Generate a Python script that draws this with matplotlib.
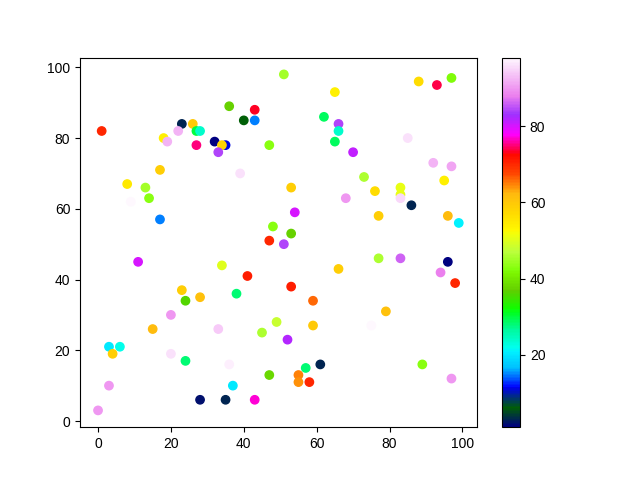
import numpy as np
import matplotlib
matplotlib.use('Agg')
import matplotlib.pyplot as plt

plt.rcParams['font.family'] = ['Liberation Sans', 'DejaVu Sans']

##points: x, y and colour value
x = [1, 23, 26, 22, 27, 28, 18, 19, 27, 36, 43, 40, 43, 32, 35, 34, 33, 47, 39, 17,
     8, 13, 9, 14, 17, 48, 47, 51,
     65, 88, 93, 97, 62, 66, 66, 65, 70, 85, 92, 97, 95, 73, 76, 83, 83, 83, 86, 53,
     68, 77, 96, 99, 54, 53, 51,
     11, 34, 41, 23, 24, 28, 38, 20, 15, 33, 45, 49, 3, 6, 4, 20, 24, 36, 47, 37,
     3, 28, 35, 43, 0,
     77, 83, 96, 94, 98, 66, 53, 59, 79, 59, 75, 52, 61, 57, 89, 55, 55, 58, 97]
y = [82, 84, 84, 82, 82, 82, 80, 79, 78, 89, 88, 85, 85, 79, 78, 78, 76, 78, 70, 71,
     67, 66, 62, 63, 57, 55, 51, 98,
     93, 96, 95, 97, 86, 84, 82, 79, 76, 80, 73, 72, 68, 69, 65, 66, 64, 63, 61, 66,
     63, 58, 58, 56, 59, 53, 50,
     45, 44, 41, 37, 34, 35, 36, 30, 26, 26, 25, 28, 21, 21, 19, 19, 17, 16, 13, 10,
     10, 6, 6, 6, 3,
     46, 46, 45, 42, 39, 43, 38, 34, 31, 27, 27, 23, 16, 15, 16, 13, 11, 11, 12]
c = [70, 3, 60, 92, 30, 24, 54, 92, 75, 37, 73, 6, 15, 1, 11, 58, 84, 43, 96, 59,
     55, 45, 98, 43, 15, 43, 70, 45,
     54, 57, 74, 42, 29, 84, 24, 29, 81, 96, 92, 91, 54, 46, 57, 51, 51, 95, 3, 59,
     90, 59, 62, 21, 80, 37, 84,
     80, 50, 71, 59, 36, 61, 28, 90, 62, 94, 46, 48, 20, 22, 59, 96, 28, 97, 38, 20,
     90, 2, 3, 77, 90,
     46, 86, 1, 88, 70, 59, 71, 66, 61, 60, 98, 82, 3, 28, 43, 65, 64, 70, 90]

plt.scatter(x, y, c=c, cmap='gist_ncar')
plt.colorbar()

plt.savefig('out.png')
